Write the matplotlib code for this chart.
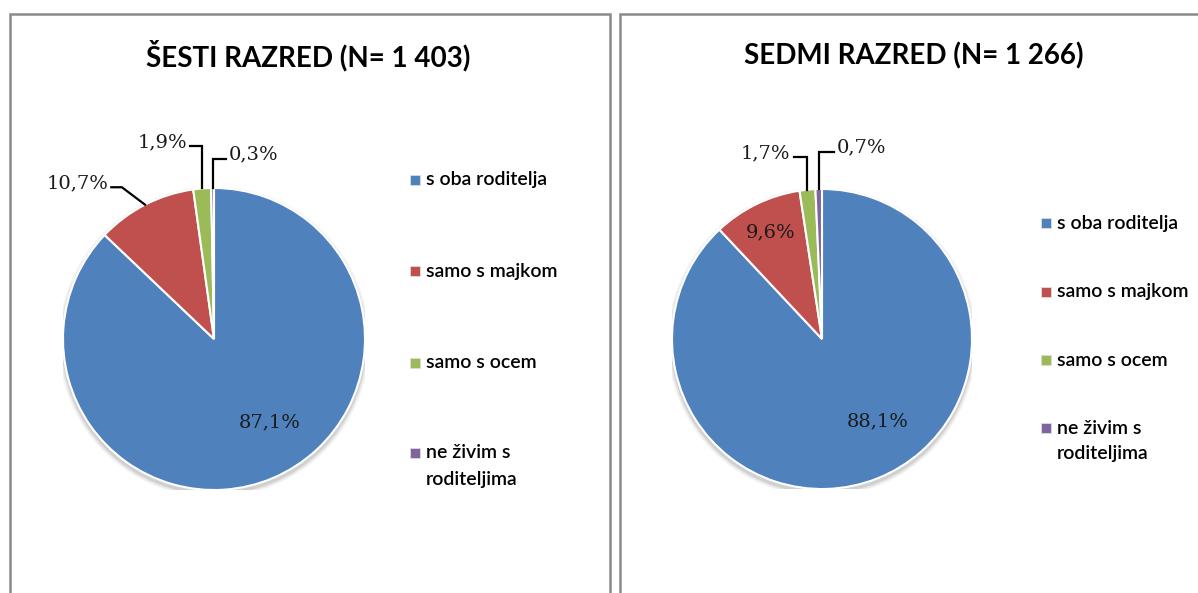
import numpy as np
import matplotlib
matplotlib.use("Agg")
import matplotlib.pyplot as plt
from matplotlib.patches import Rectangle, Circle

# data
categories = ["s oba roditelja", "samo s majkom", "samo s ocem", "ne živim s\nroditeljima"]
colors = ["#4F81BD", "#C0504D", "#9BBB59", "#8064A2"]
titles = ["ŠESTI RAZRED (N= 1 403)", "SEDMI RAZRED (N= 1 266)"]
sesti = [87.1, 10.7, 1.9, 0.3]
sedmi = [88.1, 9.6, 1.7, 0.7]

W, H = 1198, 593
fig = plt.figure(figsize=(W / 100, H / 100), dpi=100)
fig.patch.set_facecolor("white")


def fx(x):
    return x / W


def fy(y):
    return 1 - y / H


# panel frames
for x0, x1 in [(10, 610), (620, 1260)]:
    fig.patches.append(Rectangle((fx(x0), fy(640)), fx(x1 - x0), (640 - 14) / H,
                                 transform=fig.transFigure, fill=False,
                                 edgecolor="#8a8a8a", lw=1.8))

# layout per panel: pie center/radius in px, title x, legend x and row y's,
# label placement (inside pct distance, or outside text pos in pie units)
panels = [
    dict(vals=sesti, title=titles[0], cx=214, cy=339, r=151, tx=308, lx=410,
         rows=[180, 271, 363, 453], step=27,
         inside={0: None},
         outside={1: (-0.70, 1.03, "right", -0.61), 2: (-0.18, 1.30, "right", None),
                  3: (0.10, 1.22, "left", None)}),
    dict(vals=sedmi, title=titles[1], cx=822, cy=339, r=150, tx=914, lx=1041,
         rows=[223, 292, 360, 428], step=25,
         inside={0: None, 1: 0.79},
         outside={2: (-0.21, 1.24, "right", None), 3: (0.10, 1.275, "left", None)}),
]

serif = "DejaVu Serif"
sans = "Lato"

for p in panels:
    r = p["r"]
    ax = fig.add_axes([fx(p["cx"] - r), fy(p["cy"] + r), fx(2 * r), 2 * r / H])
    ax.axis("off")

    # soft shadow under the pie
    for k, a in zip([0.03, 0.02, 0.01], [0.08, 0.12, 0.2]):
        ax.add_patch(Circle((0, -0.02), 1 + k, color="#7f7f7f", alpha=a, lw=0, zorder=0))

    wedges, _ = ax.pie(p["vals"], colors=colors, startangle=90, counterclock=False,
                       radius=1, wedgeprops=dict(edgecolor="white", linewidth=1.5),
                       frame=False)
    for w in wedges:
        w.set_zorder(2)
    ax.set_xlim(-1, 1)
    ax.set_ylim(-1, 1)

    for i, (w, v) in enumerate(zip(wedges, p["vals"])):
        lab = f"{v:.1f}%".replace(".", ",")
        mid = np.deg2rad((w.theta1 + w.theta2) / 2)
        ex, ey = np.cos(mid), np.sin(mid)
        if i in p["inside"]:
            d = p["inside"][i]
            if d is None:
                tx, ty = 0.37, -0.55
            else:
                tx, ty = d * ex, d * ey
            ax.text(tx, ty, lab, ha="center", va="center", fontsize=14,
                    family=serif, color="#1a1a1a", zorder=5)
        else:
            tx, ty, ha, elbx = p["outside"][i]
            ax.text(tx, ty, lab, ha=ha, va="center", fontsize=14,
                    family=serif, color="#1a1a1a", zorder=5)
            ly = ty - 0.025
            lx = tx + (0.02 if ha == "right" else -0.02)
            if elbx is None:
                elbx = ex
            ax.plot([lx, elbx, ex], [ly, ly, ey], color="black", lw=1.6,
                    solid_joinstyle="miter", clip_on=False, zorder=4)

    fig.text(fx(p["tx"]), fy(56), p["title"], ha="center", va="center",
             fontsize=20, fontweight="bold", family=sans, color="black")

    # legend
    for c, lab, yy in zip(colors, categories, p["rows"]):
        fig.patches.append(Rectangle((fx(p["lx"]), fy(yy + 5)), fx(10), 10 / H,
                                     transform=fig.transFigure, facecolor=c,
                                     edgecolor="#dddddd", lw=0.6))
        for j, line in enumerate(lab.split("\n")):
            fig.text(fx(p["lx"] + 16), fy(yy + j * p["step"]), line, ha="left",
                     va="center", fontsize=14, family=sans, fontweight="semibold",
                     color="black")

fig.savefig("out.png", dpi=100, facecolor="white")
